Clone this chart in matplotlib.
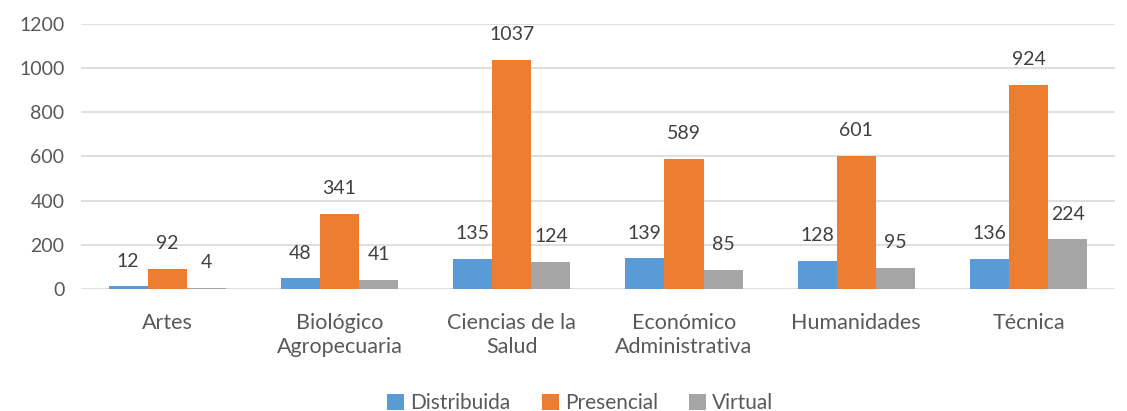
import numpy as np
import matplotlib.pyplot as plt

# Alumnos por area academica y modalidad
categorias = ["Artes", "Biológico\nAgropecuaria", "Ciencias de la\nSalud",
              "Económico\nAdministrativa", "Humanidades", "Técnica"]
distribuida = [12, 48, 135, 139, 128, 136]
presencial = [92, 341, 1037, 589, 601, 924]
virtual = [4, 41, 124, 85, 95, 224]

series = [
    ("Distribuida", distribuida, "#5B9BD5"),
    ("Presencial", presencial, "#ED7D31"),
    ("Virtual", virtual, "#A5A5A5"),
]

plt.rcParams["font.family"] = ["Lato", "DejaVu Sans"]

fig = plt.figure(figsize=(11.27, 4.11), dpi=100)
ax = fig.add_axes([0.072, 0.297, 0.917, 0.645])

x = np.arange(len(categorias))
width = 0.227

for i, (name, vals, color) in enumerate(series):
    pos = x + (i - 1) * width
    ax.bar(pos, vals, width, color=color, label=name, zorder=3)
    for px, v in zip(pos, vals):
        ax.annotate(str(v), (px, v), xytext=(0, 12), textcoords="offset points",
                    ha="center", va="bottom", fontsize=14, color="#404040")

ax.set_xlim(-0.5, len(categorias) - 0.5)
ax.set_ylim(0, 1200)
ax.set_yticks(range(0, 1201, 200))
ax.set_xticks(x)
ax.set_xticklabels(categorias, linespacing=1.25)
ax.tick_params(axis="both", length=0, labelsize=14, labelcolor="#595959")
ax.tick_params(axis="x", pad=17, labelsize=15.5)
ax.tick_params(axis="y", pad=12)
ax.grid(axis="y", color="#D9D9D9", linewidth=1.2, zorder=0)
for s in ax.spines.values():
    s.set_visible(False)

fig.legend(loc="lower center", bbox_to_anchor=(0.515, -0.05), ncol=3, frameon=False,
           fontsize=15, handlelength=0.8, handleheight=0.8, handletextpad=0.3,
           columnspacing=1.5, labelcolor="#595959")

fig.savefig("out.png", dpi=100)
